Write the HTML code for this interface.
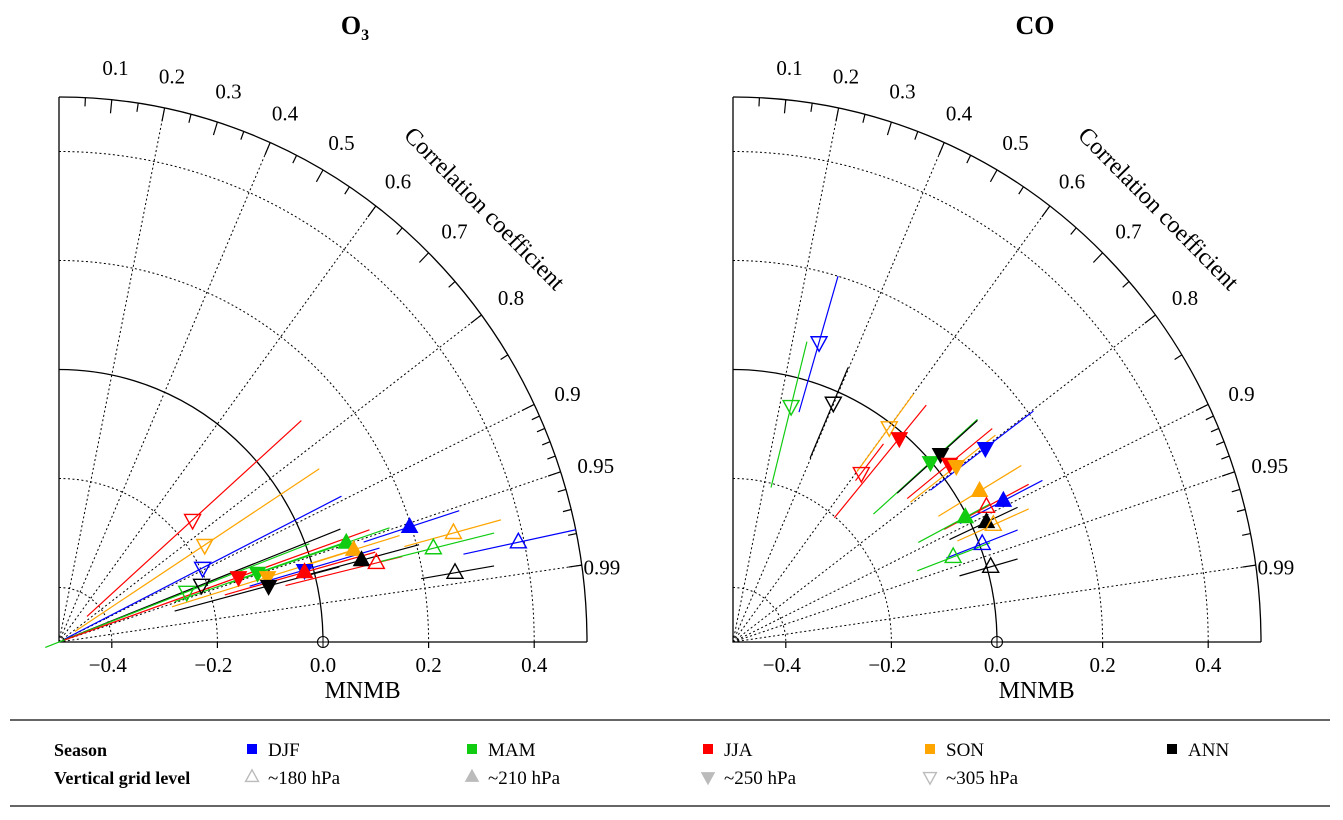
<!DOCTYPE html>
<html><head><meta charset="utf-8"><style>
html,body{margin:0;padding:0;background:#fff;}
svg{display:block;font-family:"Liberation Serif",serif;}
</style></head><body>
<svg id="chart" width="1343" height="820" viewBox="0 0 1343 820">
<g id="left"></g>
<g id="right"></g>
<g id="legend">
<line x1="10" y1="720" x2="1330" y2="720" stroke="#333" stroke-width="1.5"/>
<line x1="10" y1="806" x2="1330" y2="806" stroke="#333" stroke-width="1.5"/>
<text x="54" y="756" font-size="18" font-weight="bold">Season</text>
<text x="54" y="784" font-size="18" font-weight="bold">Vertical grid level</text>
</g>
</svg>
<script>
const seasonNames=["DJF","MAM","JJA","SON","ANN"];
const seasonColors=["#0000ff","#11cc11","#ff0000","#ffa500","#000000"];
const levelNames=["~180 hPa","~210 hPa","~250 hPa","~305 hPa"];
const corrTicks=[0.05,0.1,0.15,0.2,0.25,0.3,0.35,0.4,0.45,0.5,0.55,0.6,0.65,0.7,0.75,0.8,0.85,0.9,0.91,0.92,0.93,0.94,0.95,0.96,0.97,0.98,0.99];
const corrLabels=[0.1,0.2,0.3,0.4,0.5,0.6,0.7,0.8,0.9,0.95,0.99];
const corrGrid=[0.2,0.4,0.6,0.8,0.9,0.95,0.99];
const radGrid=[0.1,0.3,0.7,0.9];
const xTicks=[-0.4,-0.2,0.0,0.2,0.4];
// season index (0 DJF,1 MAM,2 JJA,3 SON,4 ANN), level index (0 180,1 210,2 250,3 305)
const o3Season=[2,3,0,4,1,2,1,3,4,0,2,1,3,4,2,0,3,1,0,4];
const o3Level=[3,3,3,3,3,2,2,2,2,2,1,1,1,1,0,1,0,0,0,0];
const o3Mnmb=[-0.247,-0.224,-0.228,-0.230,-0.258,-0.160,-0.124,-0.105,-0.103,-0.035,-0.035,0.044,0.058,0.073,0.101,0.164,0.247,0.209,0.370,0.250];
const o3Vert=[0.224,0.178,0.136,0.105,0.092,0.119,0.127,0.119,0.103,0.132,0.128,0.182,0.169,0.150,0.145,0.211,0.200,0.172,0.183,0.127];
const o3SegLo=[-0.447,-0.470,-0.489,-0.494,-0.526,-0.489,-0.281,-0.286,-0.281,-0.139,-0.186,-0.177,-0.044,-0.044,-0.071,0.077,0.154,0.107,0.266,0.186];
const o3SegHi=[-0.041,-0.007,0.035,0.033,-0.026,0.088,0.050,0.050,0.031,0.107,0.099,0.126,0.145,0.182,0.150,0.258,0.337,0.324,0.479,0.324];
const coSeason=[0,1,4,3,2,2,1,4,2,3,0,3,0,2,1,4,3,0,1,4];
const coLevel=[3,3,3,3,2,3,2,2,2,2,2,1,1,0,1,1,0,0,0,0];
const coMnmb=[-0.337,-0.390,-0.310,-0.204,-0.185,-0.257,-0.126,-0.107,-0.090,-0.077,-0.022,-0.033,0.012,-0.020,-0.060,-0.020,-0.007,-0.028,-0.083,-0.012];
const coVert=[0.550,0.433,0.439,0.394,0.374,0.310,0.330,0.345,0.327,0.323,0.356,0.277,0.259,0.248,0.229,0.220,0.215,0.180,0.156,0.138];
const coSegLo=[-0.375,-0.428,-0.354,-0.265,-0.308,-0.268,-0.234,-0.189,-0.170,-0.164,-0.126,-0.111,-0.070,-0.100,-0.149,-0.090,-0.075,-0.096,-0.151,-0.071];
const coSegHi=[-0.301,-0.360,-0.282,-0.158,-0.134,-0.215,-0.037,-0.037,-0.009,-0.003,0.069,0.046,0.086,0.060,-0.013,0.039,0.060,0.039,-0.013,0.039];

const NS="http://www.w3.org/2000/svg";
function mk(parent,tag,attrs){const e=document.createElementNS(NS,tag);for(const k in attrs)e.setAttribute(k,attrs[k]);parent.appendChild(e);return e;}
function tri(parent,x,y,level,color,s){
  s=s||1;
  const up=(level===0||level===1);
  const filled=(level===1||level===2);
  const h=8*s;
  const pts=up?`${x},${y-9*s} ${x-h},${y+5.5*s} ${x+h},${y+5.5*s}`:`${x},${y+9*s} ${x-h},${y-5.5*s} ${x+h},${y-5.5*s}`;
  return mk(parent,"polygon",{points:pts,fill:filled?color:"none",stroke:color,"stroke-width":filled?1:1.4});
}
function panel(g,ox,title,titleSub,season,level,mnmb,vert,segLo,segHi,key){
  const oy=642,sx=528,sy=545;
  const X=m=>ox+(m+0.5)*sx, Y=v=>oy-v*sy;
  const P=(r,c)=>[ox+r*c*sx, oy-r*Math.sqrt(1-c*c)*sy];
  const t=mk(g,"text",{x:ox+(key==="o3"?296:302),y:34,"font-size":26,"font-weight":"bold","text-anchor":"middle"});
  
  
  t.textContent=title;
  if(titleSub){const ts=mk(t,"tspan",{"font-size":16,dy:6});ts.textContent=titleSub;}
  radGrid.forEach(r=>{
    const a=mk(g,"path",{d:`M${ox},${oy-r*sy} A${r*sx},${r*sy} 0 0 1 ${ox+r*sx},${oy}`,fill:"none",stroke:"#000","stroke-width":1,"stroke-dasharray":"2,2.5"});
    
    
  });
  corrGrid.forEach(c=>{
    const p=P(1,c);
    const l=mk(g,"line",{x1:ox,y1:oy,x2:p[0],y2:p[1],stroke:"#000","stroke-width":1,"stroke-dasharray":"2,2.5"});
    
    
  });
  [0.5,1.0].forEach(r=>{
    const a=mk(g,"path",{d:`M${ox},${oy-r*sy} A${r*sx},${r*sy} 0 0 1 ${ox+r*sx},${oy}`,fill:"none",stroke:"#000","stroke-width":1.3});
    
    
  });
  const ax=mk(g,"path",{d:`M${ox},${oy-sy} L${ox},${oy} L${ox+sx},${oy}`,fill:"none",stroke:"#000","stroke-width":1.3});
  
  
  corrTicks.forEach(c=>{
    const major=Math.abs(c*10-Math.round(c*10))<1e-6||c===0.95||c===0.99;
    const p1=P(1,c),p2=P(major?0.975:0.984,c);
    const l=mk(g,"line",{x1:p1[0],y1:p1[1],x2:p2[0],y2:p2[1],stroke:"#000","stroke-width":1.2});
    
    
  });
  corrLabels.forEach(c=>{
    const rr=c===0.99?1.05:1.07;
    const p=P(rr,c);
    const tx=mk(g,"text",{x:p[0]-(c===0.99?6:0),y:p[1]+13,"font-size":21,"text-anchor":"middle"});
    
    
    tx.textContent=String(c);
  });
  const ct=mk(g,"text",{x:0,y:0,"font-size":24,"text-anchor":"middle",transform:`translate(${ox+420},${214}) rotate(45.5)`});
  
  
  ct.textContent="Correlation coefficient";
  xTicks.forEach(m=>{
    const x=X(m);
    if(m!==0){const l=mk(g,"line",{x1:x,y1:oy,x2:x,y2:oy+6,stroke:"#000","stroke-width":1.2});
      
      }
    const tx=mk(g,"text",{x:x-(m<0?4:0),y:oy+30,"font-size":21,"text-anchor":"middle"});
    
    
    tx.textContent=(m<0?"\u2212":"")+Math.abs(m).toFixed(1);
  });
  const xl=mk(g,"text",{x:X(0.075),y:oy+56,"font-size":24,"text-anchor":"middle"});
  
  
  xl.textContent="MNMB";
  const ref=mk(g,"g",{});
  
  
  mk(ref,"circle",{cx:X(0),cy:oy,r:5.5,fill:"#fff",stroke:"#000","stroke-width":1.1});
  mk(ref,"line",{x1:X(0)-5.5,y1:oy,x2:X(0)+5.5,y2:oy,stroke:"#000","stroke-width":1});
  mk(ref,"line",{x1:X(0),y1:oy-5.5,x2:X(0),y2:oy+5.5,stroke:"#000","stroke-width":1});
  for(let i=0;i<mnmb.length;i++){
    const u=mnmb[i]+0.5, k=vert[i]/u;
    const ua=segLo[i]+0.5, ub=segHi[i]+0.5;
    const l=mk(g,"line",{x1:X(segLo[i]),y1:Y(ua*k),x2:X(segHi[i]),y2:Y(ub*k),stroke:seasonColors[season[i]],"stroke-width":1.2});
    
    
  }
  for(let i=0;i<mnmb.length;i++){
    const m=tri(g,X(mnmb[i]),Y(vert[i]),level[i],seasonColors[season[i]]);
    
    
  }
}
panel(document.getElementById("left"),59,"O","3",o3Season,o3Level,o3Mnmb,o3Vert,o3SegLo,o3SegHi,"o3");
panel(document.getElementById("right"),733,"CO","",coSeason,coLevel,coMnmb,coVert,coSegLo,coSegHi,"co");
const lg=document.getElementById("legend");
const colX=[252,472,708,930,1172];
seasonNames.forEach((n,i)=>{
  const r=mk(lg,"rect",{x:colX[i]-5,y:744,width:10,height:10,fill:seasonColors[i]});
  
  
  const t=mk(lg,"text",{x:colX[i]+16,y:756,"font-size":19});
  
  
  t.textContent=n;
});
levelNames.forEach((n,i)=>{
  const m=tri(lg,colX[i],777,i,"#bbbbbb",0.8);
  
  
  const t=mk(lg,"text",{x:colX[i]+16,y:784,"font-size":19});
  
  
  t.textContent=n;
});
</script>
</body></html>
